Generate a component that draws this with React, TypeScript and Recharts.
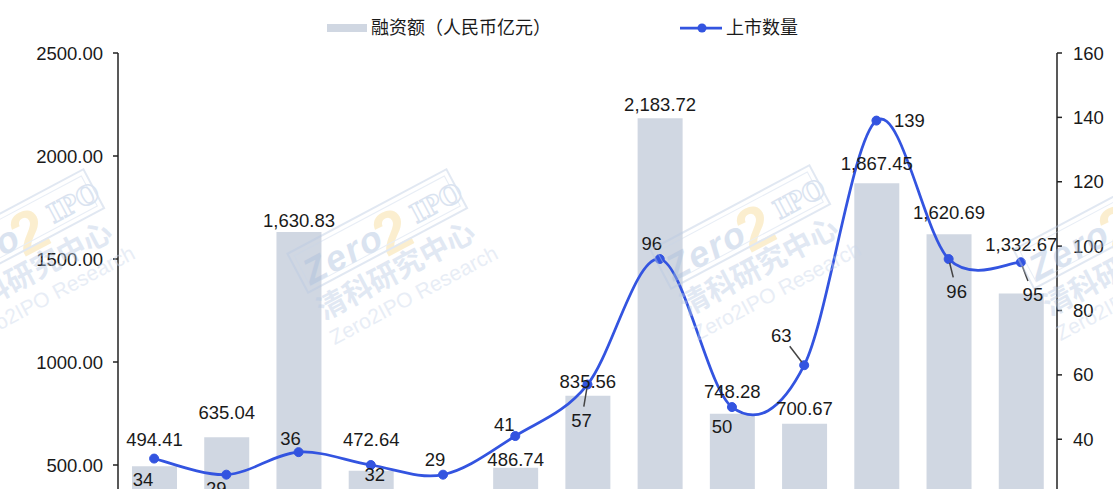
import React from 'react';
import { ComposedChart, Bar, Line, XAxis, YAxis, Legend } from 'recharts';

const years = ['2009', '2010', '2011', '2012', '2013', '2014', '2015', '2016', '2017', '2018', '2019', '2020', '2021'];
const fundraising = [494.41, 635.04, 1630.83, 472.64, 250.0, 486.74, 835.56, 2183.72, 748.28, 700.67, 1867.45, 1620.69, 1332.67];
const listings = [34, 29, 36, 32, 29, 41, 57, 96, 50, 63, 139, 96, 95];
const leftTicks = [0, 500, 1000, 1500, 2000, 2500];
const rightTicks = [0, 20, 40, 60, 80, 100, 120, 140, 160];

const barName = '融资额（人民币亿元）';
const lineName = '上市数量';

// label placement (style config)
const barLabelLift = [27, 25, 12, 31, 14, 8, 14, 14, 22, 15, 20, 22, 49];
const countLabelOffset: [number, number][] = [
  [-11, 21], [-10, 14], [-8, -14], [4, 9], [-8, -15], [-11, -12], [-6, 36],
  [-8, -16], [-10, 19], [-23, -30], [33, 0], [8, 32], [12, 32],
];
const countLeader = [false, false, false, false, false, false, true, false, false, true, false, true, true];

// watermark centres (decoration)
const watermarkCentres: [number, number][] = [[32, 260], [395, 260], [758, 256], [1121, 256]];

const data = years.map((y, i) => ({ year: y, funds: fundraising[i], count: listings[i] }));

const BAR_COLOR = '#D0D7E2';
const LINE_COLOR = '#3354E0';
const TEXT_COLOR = '#1a1a1a';
const FONT = '"Liberation Sans", Arial, "Noto Sans CJK SC", sans-serif';
const FS = 18.5;

const excelSmooth = (context: any) => {
  let pts: [number, number][] = [];
  return {
    areaStart() {},
    areaEnd() {},
    lineStart() { pts = []; },
    point(x: number, y: number) { pts.push([+x, +y]); },
    lineEnd() {
      const n = pts.length;
      if (!n) return;
      context.moveTo(pts[0][0], pts[0][1]);
      for (let i = 0; i < n - 1; i++) {
        const p0 = pts[Math.max(i - 1, 0)];
        const p1 = pts[i];
        const p2 = pts[i + 1];
        const p3 = pts[Math.min(i + 2, n - 1)];
        context.bezierCurveTo(
          p1[0] + (p2[0] - p0[0]) / 6, p1[1] + (p2[1] - p0[1]) / 6,
          p2[0] - (p3[0] - p1[0]) / 6, p2[1] - (p3[1] - p1[1]) / 6,
          p2[0], p2[1]
        );
      }
    },
  };
};

const fmtFunds = (v: number) => v.toLocaleString('en-US', { minimumFractionDigits: 2, maximumFractionDigits: 2 });

const BarLabel = (props: any) => {
  const { x, y, width, value, index } = props;
  const cx = x + width / 2;
  const cy = y - barLabelLift[index];
  return (
    <text x={cx} y={cy} textAnchor="middle" dominantBaseline="central" fontSize={FS} fill={TEXT_COLOR} fontFamily={FONT}>
      {fmtFunds(value)}
    </text>
  );
};

const LineLabel = (props: any) => {
  const { x, y, value, index } = props;
  const [dx, dy] = countLabelOffset[index];
  const lx = x + dx;
  const ly = y + dy;
  let leader = null;
  if (countLeader[index]) {
    const len = Math.hypot(dx, dy);
    const ux = dx / len;
    const uy = dy / len;
    leader = (
      <line x1={x + ux * 4} y1={y + uy * 4} x2={lx - ux * 14} y2={ly - uy * 14} stroke="#444" strokeWidth={1.5} />
    );
  }
  return (
    <g>
      {leader}
      <text x={lx} y={ly} textAnchor="middle" dominantBaseline="central" fontSize={FS} fill={TEXT_COLOR} fontFamily={FONT}>
        {value}
      </text>
    </g>
  );
};

const LegendContent = () => (
  <div style={{ position: 'relative', width: 1113, height: 43, fontFamily: FONT, fontSize: 18, color: TEXT_COLOR }}>
    <div style={{ position: 'absolute', left: 327, top: 14, width: 40, height: 8, background: BAR_COLOR }} />
    <div style={{ position: 'absolute', left: 371, top: 6, lineHeight: '24px', whiteSpace: 'nowrap' }}>{barName}</div>
    <svg style={{ position: 'absolute', left: 680, top: 10 }} width={42} height={16}>
      <line x1={0} y1={8} x2={42} y2={8} stroke={LINE_COLOR} strokeWidth={2.75} />
      <circle cx={22} cy={8} r={4.5} fill={LINE_COLOR} />
    </svg>
    <div style={{ position: 'absolute', left: 726, top: 6, lineHeight: '24px', whiteSpace: 'nowrap' }}>{lineName}</div>
  </div>
);

const Watermark = ({ cx, cy }: { cx: number; cy: number }) => (
  <g transform={`translate(${cx},${cy}) rotate(-28)`} opacity={0.42} fontFamily={FONT}>
    <text x={-6} y={-6} fontSize={60} fontWeight="bold" fill="#F6D98E">2</text>
    <rect x={-92} y={-56} width={180} height={44} fill="none" stroke="#B9C9E2" strokeWidth={2} />
    <rect x={-87} y={-51} width={170} height={34} fill="none" stroke="#C9D6EA" strokeWidth={1} />
    <text x={-86} y={-17} fontSize={36} fontWeight="bold" fontStyle="italic" fill="#A9BEDD" letterSpacing={2}>Zero</text>
    <text x={36} y={-22} fontSize={26} fontWeight="bold" fill="none" stroke="#A9BEDD" strokeWidth={1.5} fontFamily="'DejaVu Serif', serif">IPO</text>
    <text x={-4} y={20} textAnchor="middle" fontSize={29} fontWeight="bold" fill="#B8CAE4" fontFamily="'Noto Sans CJK SC', sans-serif">清科研究中心</text>
    <text x={0} y={47} textAnchor="middle" fontSize={21} fill="#C9D6EA">Zero2IPO Research</text>
  </g>
);

export default function App() {
  return (
    <div style={{ position: 'absolute', left: 0, top: 0, width: 1113, height: 620, background: '#fff' }}>
      <ComposedChart
        width={1113}
        height={620}
        data={data}
        margin={{ top: 10, right: 0, bottom: 22, left: 0 }}
      >
        <Legend verticalAlign="top" height={43} wrapperStyle={{ left: 0, top: 10, width: 1113 }} content={<LegendContent />} />
        <XAxis dataKey="year" height={30} axisLine={{ stroke: '#222' }} tickLine={false} tick={false} />
        <YAxis
          yAxisId="left"
          orientation="left"
          width={118}
          domain={[0, 2500]}
          ticks={leftTicks}
          tickFormatter={(v: number) => v.toFixed(2)}
          tick={{ fill: TEXT_COLOR, fontSize: FS, fontFamily: FONT }}
          tickSize={5}
          tickMargin={10}
          axisLine={{ stroke: '#222', strokeWidth: 1.5 }}
          tickLine={{ stroke: '#222', strokeWidth: 1.5 }}
        />
        <YAxis
          yAxisId="right"
          orientation="right"
          width={56}
          domain={[0, 160]}
          ticks={rightTicks}
          tick={{ fill: TEXT_COLOR, fontSize: FS, fontFamily: FONT }}
          tickSize={5}
          tickMargin={11}
          axisLine={{ stroke: '#222', strokeWidth: 1.5 }}
          tickLine={{ stroke: '#222', strokeWidth: 1.5 }}
        />
        <Bar yAxisId="left" dataKey="funds" name={barName} fill={BAR_COLOR} barSize={45} isAnimationActive={false} label={BarLabel} />
        <Line
          yAxisId="right"
          dataKey="count"
          name={lineName}
          type={excelSmooth as any}
          stroke={LINE_COLOR}
          strokeWidth={2.75}
          dot={{ r: 4.5, fill: LINE_COLOR, stroke: LINE_COLOR, strokeWidth: 1 }}
          activeDot={false}
          isAnimationActive={false}
          label={LineLabel}
        />
      </ComposedChart>
      <svg width={1113} height={489} style={{ position: 'absolute', left: 0, top: 0, pointerEvents: 'none' }}>
        {watermarkCentres.map(([x, y], i) => (
          <Watermark key={i} cx={x} cy={y} />
        ))}
      </svg>
    </div>
  );
}
